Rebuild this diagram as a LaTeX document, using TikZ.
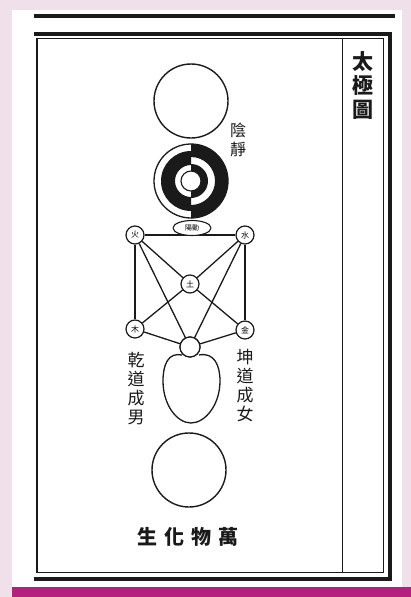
\documentclass[tikz,border=0pt]{standalone}
\usepackage{fontspec}
\usetikzlibrary{shapes.geometric}
\newfontfamily\cjk{Noto Sans CJK TC}
\definecolor{pinkbg}{HTML}{F0E0EA}
\definecolor{magbar}{HTML}{B5207E}
\definecolor{ink}{HTML}{1A1A1A}
\tikzset{
  ink line/.style={draw=ink, line width=1.3pt},
  big ring/.style={circle, draw=ink, line width=1.4pt, minimum size=74pt, inner sep=0pt, fill=white},
  phase/.style={circle, draw=ink, line width=1.2pt, minimum size=18pt, inner sep=0pt, fill=white, font=\cjk\fontsize{8}{8}\selectfont},
  vtext/.style={align=center, font=\cjk\fontsize{16}{19}\selectfont, text=ink, inner sep=0pt},
  ttext/.style={align=center, font=\cjk\bfseries\fontsize{21}{24}\selectfont, text=ink, inner sep=0pt},
}
\begin{document}
\begin{tikzpicture}[x=1pt,y=-1pt]
\useasboundingbox (0,0) rectangle (411,597);
\fill[pinkbg] (0,0) rectangle (411,597);
\fill[white] (12,10) rectangle (402,587);
\fill[magbar] (12,587) rectangle (411,597);
% frame
\draw[ink, line width=4pt] (34,16) -- (395,16);
\draw[ink, line width=3.5pt] (34,34) -- (392,34);
\draw[ink, line width=4pt] (390,32.5) -- (390,581);
\draw[ink, line width=4pt] (34,579) -- (392,579);
\draw[ink, line width=2pt] (36.5,38) -- (36.5,573);
\draw[ink, line width=1pt] (36,38.5) -- (383,38.5) -- (383,572) -- (36,572);
\draw[ink, line width=1pt] (342,38.5) -- (342,572);
% title
\node[ttext] (title) at (363,86) {太\\極\\圖};
% top circle
\node[big ring] (wuji) at (191,101) {};
% yin-yang circle
\begin{scope}[shift={(191,181)}]
  \fill[white] (0,0) circle[radius=37];
  \fill[ink] (90:30) arc[start angle=90, end angle=270, radius=30] -- (270:16) arc[start angle=270, end angle=90, radius=16] -- cycle;
  \fill[ink] (90:37) arc[start angle=90, end angle=-90, radius=37] -- (-90:24) arc[start angle=-90, end angle=90, radius=24] -- cycle;
  \fill[ink] (90:17) arc[start angle=90, end angle=-90, radius=17] -- (-90:10) arc[start angle=-90, end angle=90, radius=10] -- cycle;
  \draw[ink, line width=1.3pt] (0,0) circle[radius=37];
  \draw[ink, line width=1.1pt] (0,0) circle[radius=10];
\end{scope}
\node[vtext] (yinjing) at (238,140) {陰\\靜};
% five phases
\node[phase] (huo) at (135,235) {火};
\node[phase] (shui) at (245,235) {水};
\node[phase] (tu) at (190,284) {土};
\node[phase] (mu) at (135,329) {木};
\node[phase] (jin) at (245,330) {金};
\node[circle, draw=ink, line width=1.2pt, minimum size=20pt, inner sep=0pt] (join) at (190,347) {};
\draw[ink line] (huo) -- (shui);
\draw[ink line] (huo) -- (mu);
\draw[ink line] (shui) -- (jin);
\draw[ink line] (huo) -- (tu);
\draw[ink line] (shui) -- (tu);
\draw[ink line] (tu) -- (mu);
\draw[ink line] (tu) -- (jin);
\draw[ink line] (huo) -- (join);
\draw[ink line] (shui) -- (join);
\draw[ink line] (mu) -- (join);
\draw[ink line] (jin) -- (join);
% small yang-dong shape
\node[ellipse, draw=ink, line width=1.1pt, fill=white, minimum width=38pt, minimum height=15pt, inner sep=0pt, font=\cjk\fontsize{7}{7}\selectfont] (yangdong) at (192,228) {陽動};
% egg
\draw[ink line] (182,355) .. controls (168,352) and (163,365) .. (163,381)
  .. controls (163,405) and (177,423) .. (191,423)
  .. controls (205,423) and (220,405) .. (220,381)
  .. controls (220,365) and (214,352) .. (199,355);
\node[circle, draw=ink, line width=1.2pt, fill=white, minimum size=20pt, inner sep=0pt] at (join) {};
\node[vtext, font=\cjk\fontsize{17}{19}\selectfont] (qian) at (136,389) {乾\\道\\成\\男};
\node[vtext, font=\cjk\fontsize{17}{19}\selectfont] (kun) at (245,386) {坤\\道\\成\\女};
% bottom circle
\node[big ring] (wanwu) at (189,470) {};
\node[font=\cjk\bfseries\fontsize{20}{20}\selectfont, text=ink] (hua) at (188,537) {生\hspace{7pt}化\hspace{7pt}物\hspace{7pt}萬};
\end{tikzpicture}
\end{document}
